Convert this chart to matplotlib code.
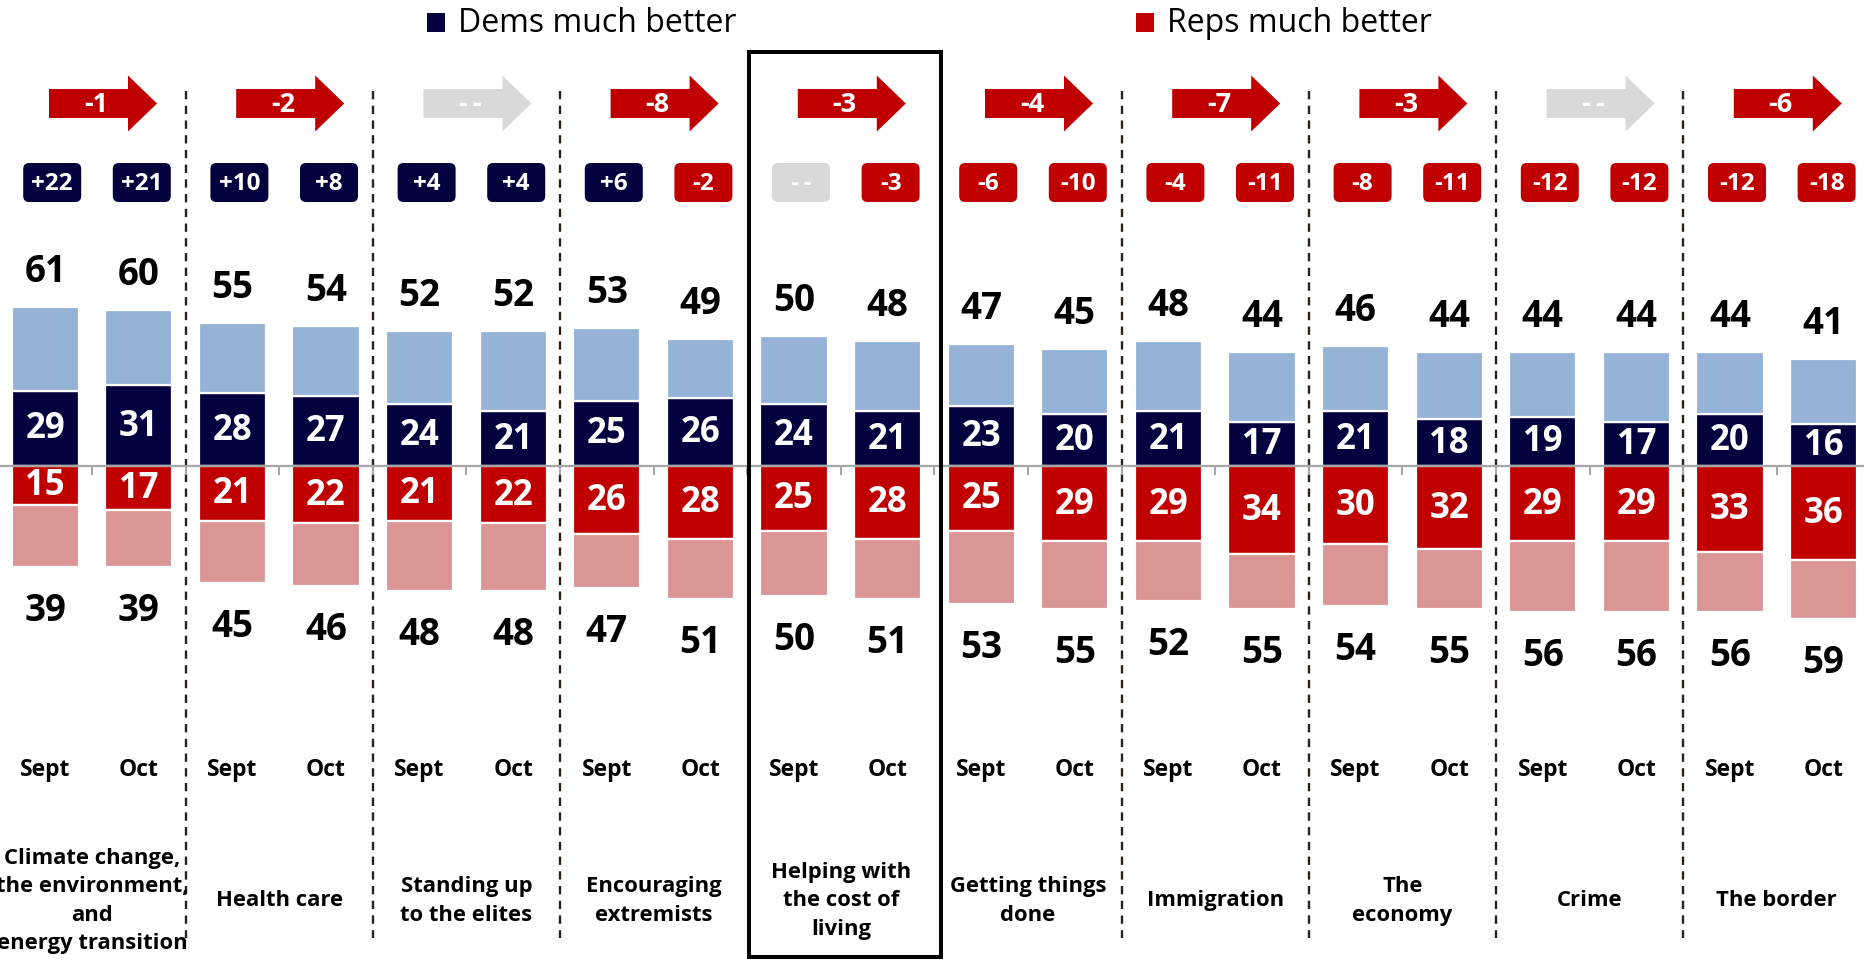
import matplotlib
matplotlib.use("Agg")
import matplotlib.pyplot as plt
from matplotlib.patches import FancyBboxPatch, Polygon, Rectangle
import numpy as np

plt.rcParams['font.family'] = ['Open Sans', 'DejaVu Sans']
plt.rcParams['lines.scale_dashes'] = False

# ---------------- data ----------------
categories = ["Climate change,\nthe environment,\nand\nenergy transition",
              "Health care", "Standing up\nto the elites", "Encouraging\nextremists",
              "Helping with\nthe cost of\nliving", "Getting things\ndone", "Immigration",
              "The\neconomy", "Crime", "The border"]
periods = ["Sept", "Oct"]

dem_total_sep = [61, 55, 52, 53, 50, 47, 48, 46, 44, 44]
dem_total_oct = [60, 54, 52, 49, 48, 45, 44, 44, 44, 41]
dem_much_sep = [29, 28, 24, 25, 24, 23, 21, 21, 19, 20]
dem_much_oct = [31, 27, 21, 26, 21, 20, 17, 18, 17, 16]
rep_much_sep = [15, 21, 21, 26, 25, 25, 29, 30, 29, 33]
rep_much_oct = [17, 22, 22, 28, 28, 29, 34, 32, 29, 36]
rep_total_sep = [39, 45, 48, 47, 50, 53, 52, 54, 56, 56]
rep_total_oct = [39, 46, 48, 51, 51, 55, 55, 55, 56, 59]
net_sep = ["+22", "+10", "+4", "+6", "--", "-6", "-4", "-8", "-12", "-12"]
net_oct = ["+21", "+8", "+4", "-2", "-3", "-10", "-11", "-11", "-12", "-18"]
change = ["-1", "-2", "--", "-8", "-3", "-4", "-7", "-3", "--", "-6"]
legend_labels = ["Dems much better", "Reps much better"]
highlight = 4  # "Helping with the cost of living"

# ---------------- style ----------------
NAVY = "#03023F"
RED = "#C00000"
LBLUE = "#95B3D7"
PINK = "#DA9694"
GRAY = "#D9D9D9"

W, H = 1864, 962
X0, DX = 45.2, 93.6      # pixel x of first bar, bar spacing (px)
BASE, PPU = 467, 2.6     # baseline pixel y, pixels per percentage point

fig = plt.figure(figsize=(W / 100, H / 100), dpi=100)
ax = fig.add_axes([0, 0, 1, 1])
ax.set_xlim(-X0 / DX, (W - X0) / DX)
ax.set_ylim(-(H - BASE) / PPU, BASE / PPU)
ax.axis('off')

ov = fig.add_axes([0, 0, 1, 1], zorder=3)
ov.set_xlim(0, W)
ov.set_ylim(H, 0)
ov.axis('off')
ov.patch.set_visible(False)

n = len(categories)
pos_sep = np.arange(n) * 2
pos_oct = pos_sep + 1
BW = 0.72


def px(p):
    return X0 + DX * p


def shown(s):
    return "-\u2009-" if s == "--" else s


series = [
    (pos_sep, dem_much_sep, dem_total_sep, rep_much_sep, rep_total_sep, net_sep, 7),
    (pos_oct, dem_much_oct, dem_total_oct, rep_much_oct, rep_total_oct, net_oct, 3),
]

for pos, dm, dt, rm, rt, net, boff in series:
    dm = np.array(dm); dt = np.array(dt); rm = np.array(rm); rt = np.array(rt)
    kw = dict(width=BW, edgecolor='white', linewidth=1.6, zorder=2)
    ax.bar(pos, dm, color=NAVY, **kw)
    ax.bar(pos, dt - dm, bottom=dm, color=LBLUE, **kw)
    ax.bar(pos, -rm, color=RED, **kw)
    ax.bar(pos, -(rt - rm), bottom=-rm, color=PINK, **kw)
    for p, a, b, c, d, lab in zip(pos, dm, dt, rm, rt, net):
        ax.text(p, a / 2, str(a), ha='center', va='center', color='white',
                fontsize=25, fontweight='bold', zorder=4)
        ax.text(p, -c / 2, str(c), ha='center', va='center', color='white',
                fontsize=25, fontweight='bold', zorder=4)
        ax.annotate(str(b), (p, b), xytext=(0, 36), textcoords='offset pixels',
                    ha='center', va='center', fontsize=26.5, fontweight='bold')
        ax.annotate(str(d), (p, -d), xytext=(0, -43), textcoords='offset pixels',
                    ha='center', va='center', fontsize=26.5, fontweight='bold')
        # net badge
        col = GRAY if lab == "--" else (NAVY if lab.startswith('+') else RED)
        bx = px(p) + boff
        ov.add_patch(FancyBboxPatch((bx - 29, 164), 58, 39,
                                    boxstyle='round,pad=0,rounding_size=6',
                                    fc=col, ec='none', zorder=3))
        ov.text(bx, 184, shown(lab), ha='center', va='center', color='white',
                fontsize=17.5, fontweight='bold', zorder=4)

# period labels
for pos, lab in [(pos_sep, periods[0]), (pos_oct, periods[1])]:
    for p in pos:
        ov.text(px(p), 770, lab, ha='center', va='center', fontsize=16.5,
                fontweight='bold')

# category labels, change arrows
for i, cat in enumerate(categories):
    cx = px(2 * i + 0.5)
    ov.text(cx, 901, cat, ha='center', va='center', fontsize=15.8,
            fontweight='bold', linespacing=1.45)
    ch = change[i]
    col = GRAY if ch == "--" else RED
    x0 = cx - 43
    yc = 104.5
    pts = [(x0, yc - 14.5), (x0 + 79, yc - 14.5), (x0 + 79, yc - 28),
           (x0 + 108, yc), (x0 + 79, yc + 28), (x0 + 79, yc + 14.5),
           (x0, yc + 14.5)]
    ov.add_patch(Polygon(pts, closed=True, fc=col, ec='none'))
    ov.text(x0 + 47, yc + 1, shown(ch), ha='center', va='center', color='white',
            fontsize=19.5, fontweight='bold')

# axis line with ticks
ov.plot([0, W], [BASE, BASE], color='#A6A6A6', lw=1.6, zorder=3)
for b in np.arange(-0.5, 2 * n, 1.0):
    ov.plot([px(b), px(b)], [BASE, BASE + 8], color='#A6A6A6', lw=1.4, zorder=3)

# dashed separators
for i in range(n - 1):
    if i in (highlight - 1, highlight):
        continue
    xb = px(2 * i + 1.5)
    ov.plot([xb, xb], [92, 939], color='#2A211B', lw=1.7, dashes=(6.0, 4.6),
            zorder=1)

# highlight box
ov.add_patch(Rectangle((px(2 * highlight - 0.5) + 2, 53),
                       px(2 * highlight + 1.5) - px(2 * highlight - 0.5) + 5, 905,
                       fill=False, ec='black', lw=2.9, zorder=5))

# legend
for (sx, tx), lab, col in zip([(427, 458), (1136, 1167)], legend_labels, [NAVY, RED]):
    ov.add_patch(Rectangle((sx, 14), 18, 19, fc=col, ec='none'))
    ov.text(tx, 24, lab, ha='left', va='center', fontsize=23)

fig.savefig("out.png", dpi=100)
